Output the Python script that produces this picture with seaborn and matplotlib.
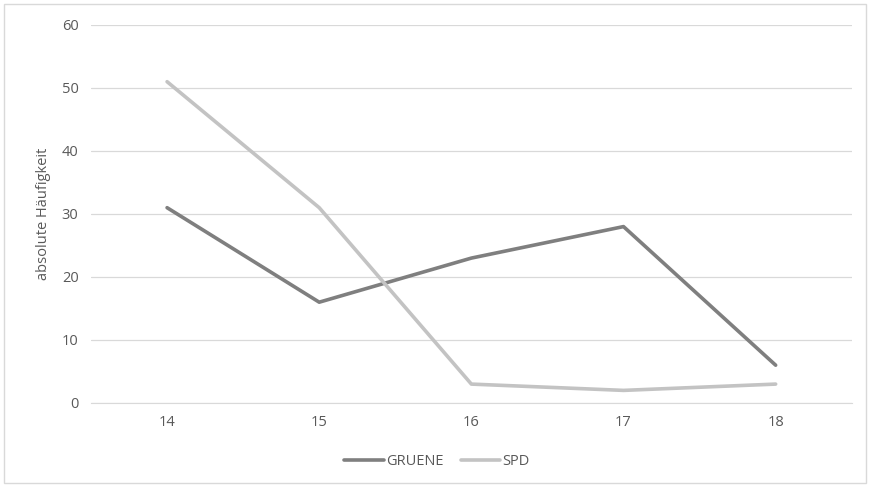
import pandas as pd
import matplotlib.pyplot as plt
import seaborn as sns

# Werte
alter = ["14", "15", "16", "17", "18"]
gruene = [31, 16, 23, 28, 6]
spd = [51, 31, 3, 2, 3]

df = pd.DataFrame({
    "Alter": alter * 2,
    "Wert": gruene + spd,
    "Partei": ["GRUENE"] * len(alter) + ["SPD"] * len(alter),
})

sns.set_style("white")
plt.rcParams["font.family"] = ["Open Sans", "DejaVu Sans"]

fig = plt.figure(figsize=(8.7, 4.87), dpi=100)
ax = fig.add_axes([0.1046, 0.1725, 0.8744, 0.7762])

sns.lineplot(data=df, x="Alter", y="Wert", hue="Partei",
             palette={"GRUENE": "#7f7f7f", "SPD": "#c3c3c3"},
             linewidth=2.6, ax=ax, sort=False)
for line in ax.lines:
    line.set_solid_capstyle("round")

ax.set_xlim(-0.5, 4.5)
ax.set_ylim(0, 60)
ax.set_yticks(range(0, 61, 10))
ax.grid(axis="y", color="#d9d9d9", linewidth=0.9)
ax.set_axisbelow(True)
for s in ["top", "right", "left"]:
    ax.spines[s].set_visible(False)
ax.spines["bottom"].set_color("#d9d9d9")
ax.tick_params(axis="both", length=0, labelsize=10.5, colors="#595959", pad=9)
ax.set_xlabel("")
ax.set_ylabel("absolute Häufigkeit", fontsize=10.5, color="#595959", labelpad=8)

ax.legend(loc="upper center", bbox_to_anchor=(0.455, -0.1), ncol=2,
          frameon=False, fontsize=10.5, labelcolor="#595959",
          handlelength=2.7, handletextpad=0.15, columnspacing=1.2)

# Rahmen um die ganze Grafik
fig.patches.append(plt.Rectangle((0.005, 0.008), 0.99, 0.984, transform=fig.transFigure,
                                 fill=False, edgecolor="#d9d9d9", linewidth=1))

fig.savefig("out.png", dpi=100)
plt.close()
